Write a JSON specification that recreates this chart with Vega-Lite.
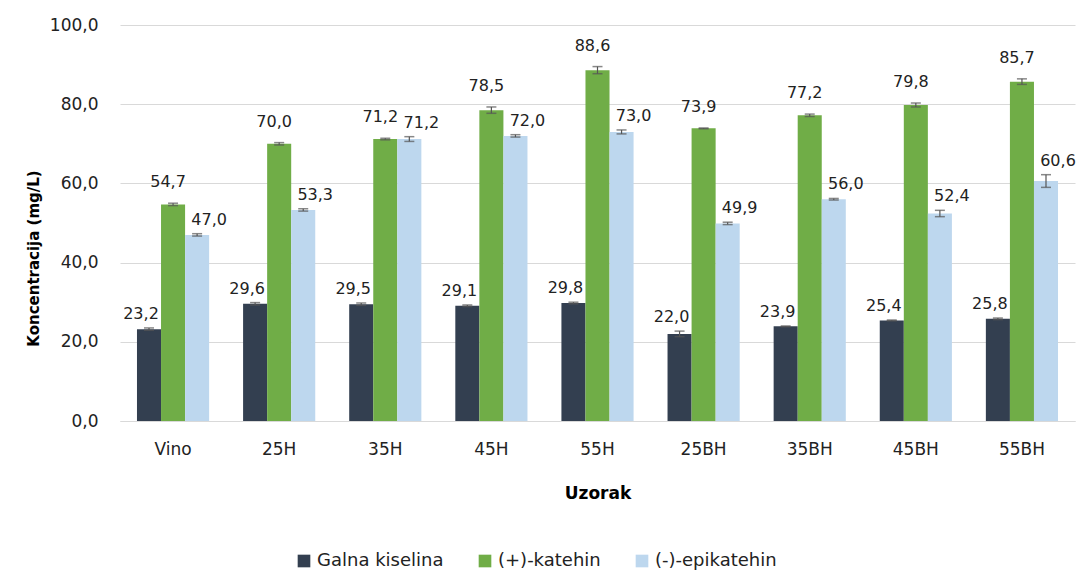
{
  "$schema": "https://vega.github.io/schema/vega-lite/v6.json",
  "autosize": {"type": "none"},
  "padding": {"left": 120, "top": 25, "right": 3, "bottom": 151},
  "width": 955,
  "height": 396,
  "background": "white",
  "config": {
    "locale": {"number": {"decimal": ",", "thousands": ".", "grouping": [3], "currency": ["", " €"]}},
    "font": "DejaVu Sans",
    "view": {"stroke": null}
  },
  "data": {"values": [
    {"uzorak": "Vino", "serija": "Galna kiselina", "v": 23.2, "sd": 0.3},
    {"uzorak": "Vino", "serija": "(+)-katehin", "v": 54.7, "sd": 0.3},
    {"uzorak": "Vino", "serija": "(-)-epikatehin", "v": 47.0, "sd": 0.3},
    {"uzorak": "25H", "serija": "Galna kiselina", "v": 29.6, "sd": 0.3},
    {"uzorak": "25H", "serija": "(+)-katehin", "v": 70.0, "sd": 0.3},
    {"uzorak": "25H", "serija": "(-)-epikatehin", "v": 53.3, "sd": 0.3},
    {"uzorak": "35H", "serija": "Galna kiselina", "v": 29.5, "sd": 0.3},
    {"uzorak": "35H", "serija": "(+)-katehin", "v": 71.2, "sd": 0.2},
    {"uzorak": "35H", "serija": "(-)-epikatehin", "v": 71.2, "sd": 0.6},
    {"uzorak": "45H", "serija": "Galna kiselina", "v": 29.1, "sd": 0.2},
    {"uzorak": "45H", "serija": "(+)-katehin", "v": 78.5, "sd": 0.8},
    {"uzorak": "45H", "serija": "(-)-epikatehin", "v": 72.0, "sd": 0.3},
    {"uzorak": "55H", "serija": "Galna kiselina", "v": 29.8, "sd": 0.2},
    {"uzorak": "55H", "serija": "(+)-katehin", "v": 88.6, "sd": 0.9},
    {"uzorak": "55H", "serija": "(-)-epikatehin", "v": 73.0, "sd": 0.5},
    {"uzorak": "25BH", "serija": "Galna kiselina", "v": 22.0, "sd": 0.7},
    {"uzorak": "25BH", "serija": "(+)-katehin", "v": 73.9, "sd": 0.1},
    {"uzorak": "25BH", "serija": "(-)-epikatehin", "v": 49.9, "sd": 0.3},
    {"uzorak": "35BH", "serija": "Galna kiselina", "v": 23.9, "sd": 0.1},
    {"uzorak": "35BH", "serija": "(+)-katehin", "v": 77.2, "sd": 0.3},
    {"uzorak": "35BH", "serija": "(-)-epikatehin", "v": 56.0, "sd": 0.2},
    {"uzorak": "45BH", "serija": "Galna kiselina", "v": 25.4, "sd": 0.1},
    {"uzorak": "45BH", "serija": "(+)-katehin", "v": 79.8, "sd": 0.5},
    {"uzorak": "45BH", "serija": "(-)-epikatehin", "v": 52.4, "sd": 0.8},
    {"uzorak": "55BH", "serija": "Galna kiselina", "v": 25.8, "sd": 0.2},
    {"uzorak": "55BH", "serija": "(+)-katehin", "v": 85.7, "sd": 0.7},
    {"uzorak": "55BH", "serija": "(-)-epikatehin", "v": 60.6, "sd": 1.6}
  ]},
  "transform": [
    {"calculate": "datum.v - datum.sd", "as": "lo"},
    {"calculate": "datum.v + datum.sd", "as": "hi"}
  ],
  "encoding": {
    "x": {
      "field": "uzorak", "type": "nominal", "sort": null,
      "scale": {"paddingInner": 0.32, "paddingOuter": 0.16},
      "axis": {"title": "Uzorak", "titleFontWeight": "bold", "titleFontSize": 17, "titlePadding": 28, "titleColor": "#000",
               "labelAngle": 0, "labelFontSize": 17, "labelColor": "#222", "labelPadding": 20, "ticks": false,
               "domainColor": "#D9D9D9", "domainWidth": 1}
    },
    "xOffset": {"field": "serija", "type": "nominal", "sort": ["Galna kiselina", "(+)-katehin", "(-)-epikatehin"], "scale": {"paddingInner": 0, "paddingOuter": 0}}
  },
  "layer": [
    {
      "mark": {"type": "bar"},
      "encoding": {
        "y": {
          "field": "v", "type": "quantitative",
          "scale": {"domain": [0, 100]},
          "axis": {"title": "Koncentracija  (mg/L)", "titleFontWeight": "bold", "titleFontSize": 15, "titleColor": "#000", "titlePadding": 8, "titleY": 233,
                   "format": ".1f", "values": [0, 20, 40, 60, 80, 100], "labelFontSize": 17, "labelColor": "#222", "labelPadding": 22,
                   "ticks": false, "domain": false, "gridColor": "#D9D9D9", "gridWidth": 1}
        },
        "color": {
          "field": "serija", "type": "nominal",
          "sort": ["Galna kiselina", "(+)-katehin", "(-)-epikatehin"],
          "scale": {"domain": ["Galna kiselina", "(+)-katehin", "(-)-epikatehin"], "range": ["#333F50", "#70AD47", "#BDD7EE"]},
          "legend": {"title": null, "orient": "none", "legendX": 175, "legendY": 527, "direction": "horizontal",
                     "symbolType": "square", "symbolSize": 160, "symbolStrokeWidth": 0, "labelFontSize": 18, "labelColor": "#222", "columnPadding": 32, "labelOffset": 4}
        }
      }
    },
    {
      "mark": {"type": "rule", "color": "#555", "strokeWidth": 1.2},
      "encoding": {"y": {"field": "lo", "type": "quantitative"}, "y2": {"field": "hi"}}
    },
    {
      "mark": {"type": "tick", "color": "#555", "thickness": 1.5, "size": 10, "orient": "horizontal"},
      "encoding": {"y": {"field": "lo", "type": "quantitative"}}
    },
    {
      "mark": {"type": "tick", "color": "#555", "thickness": 1.5, "size": 10, "orient": "horizontal"},
      "encoding": {"y": {"field": "hi", "type": "quantitative"}}
    },
    {
      "transform": [{"filter": "datum.serija == 'Galna kiselina'"}],
      "mark": {"type": "text", "baseline": "bottom", "dy": -6, "dx": -8, "fontSize": 16, "color": "#222"},
      "encoding": {"y": {"field": "hi", "type": "quantitative"}, "text": {"field": "v", "type": "quantitative", "format": ".1f"}}
    },
    {
      "transform": [{"filter": "datum.serija == '(+)-katehin'"}],
      "mark": {"type": "text", "baseline": "bottom", "dy": -13, "dx": -5, "fontSize": 16, "color": "#222"},
      "encoding": {"y": {"field": "hi", "type": "quantitative"}, "text": {"field": "v", "type": "quantitative", "format": ".1f"}}
    },
    {
      "transform": [{"filter": "datum.serija == '(-)-epikatehin'"}],
      "mark": {"type": "text", "baseline": "bottom", "dy": -6, "dx": 12, "fontSize": 16, "color": "#222"},
      "encoding": {"y": {"field": "hi", "type": "quantitative"}, "text": {"field": "v", "type": "quantitative", "format": ".1f"}}
    }
  ]
}
